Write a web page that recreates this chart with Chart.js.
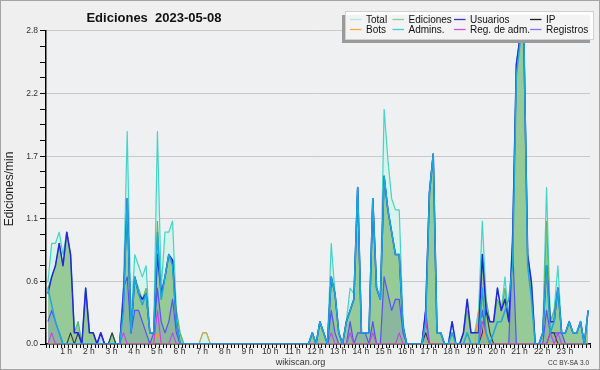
<!DOCTYPE html>
<html><head><meta charset="utf-8">
<script src="https://cdn.jsdelivr.net/npm/chart.js@4"></script>
<style>
html,body{margin:0;padding:0;background:#efefef;}
canvas{display:block;}
</style></head>
<body><canvas id="c" width="600" height="370"></canvas>
<script>
// ---- data (10-minute bins, edits per minute) ----
const hourLabels = ['1 h','2 h','3 h','4 h','5 h','6 h','7 h','8 h','9 h','10 h','11 h','12 h','13 h','14 h','15 h','16 h','17 h','18 h','19 h','20 h','21 h','22 h','23 h'];
const yTickLabels = ['0.0','0.6','1.1','1.7','2.2','2.8'];

const total = [
0.55,0.9,0.9,1.0,0.8,1.0,0.8,0.1,0.2,0,0.5,0.1,
0.1,0,0.1,0,0,0.1,0,0,0.5,1.9,0.2,0.8,
0.7,0.6,0.7,0.1,0.1,1.9,0.5,1.0,1.0,1.1,0.3,0.1,
0,0,0,0,0,0.1,0.1,0,0,0,0,0,
0,0,0,0,0,0,0,0,0,0,0,0,
0,0,0,0,0,0,0,0,0,0,0.1,0,
0.2,0.1,0,0.9,0.45,0.1,0,0.2,0.5,0.45,1.4,0.1,
0.1,0.1,1.3,0.5,0.4,2.1,1.65,1.3,1.2,1.2,0.2,0,
0,0,0,0,0.3,1.4,1.7,0.1,0.1,0,0,0.2,
0,0,0.1,0.4,0.1,0.1,0.3,1.1,0.4,0.2,0.2,0.5,
0.3,0.6,0.2,1.0,2.5,2.75,2.8,0.8,0.55,0,0,0.1,
1.4,0.2,0.3,0.7,0.1,0.1,0.2,0.1,0.1,0.2,0,0.3];

const ediciones = [
0.5,0.6,0.7,0.9,0.7,1.0,0.8,0.1,0.2,0,0.5,0.1,
0.1,0,0,0,0,0.1,0,0,0.4,1.3,0.1,0.6,
0.5,0.4,0.5,0.1,0.1,1.1,0.4,0.6,0.8,0.75,0.3,0.1,
0,0,0,0,0,0,0,0,0,0,0,0,
0,0,0,0,0,0,0,0,0,0,0,0,
0,0,0,0,0,0,0,0,0,0,0.1,0,
0.2,0.1,0,0.6,0.45,0.1,0,0.2,0.3,0.4,1.4,0.1,
0.1,0.1,1.3,0.5,0.4,1.5,1.2,1.0,0.8,0.8,0.15,0,
0,0,0,0,0.2,1.35,1.7,0.1,0.1,0,0,0.1,
0,0,0.1,0.3,0.1,0.1,0.2,0.75,0.4,0.2,0.2,0.4,
0.3,0.5,0.2,0.8,2.5,2.75,2.75,0.8,0.5,0,0,0.1,
1.1,0.2,0.3,0.5,0.1,0.1,0.2,0.1,0.1,0.2,0,0.3];

const usuarios = [
0.45,0.6,0.7,0.9,0.7,1.0,0.8,0.1,0.1,0,0.5,0.1,
0.1,0,0.1,0,0,0,0,0,0.4,1.3,0.1,0.6,
0.45,0.4,0.45,0.1,0.1,0.8,0.45,0.6,0.8,0.75,0.2,0,
0,0,0,0,0,0,0,0,0,0,0,0,
0,0,0,0,0,0,0,0,0,0,0,0,
0,0,0,0,0,0,0,0,0,0,0.1,0,
0.2,0.1,0,0.6,0.45,0.1,0,0.2,0.3,0.4,1.4,0.1,
0.1,0.1,1.3,0.5,0.4,1.5,1.2,1.0,0.8,0.8,0.15,0,
0,0,0,0,0.3,1.35,1.7,0.1,0.1,0,0,0.2,
0,0,0.1,0.4,0.1,0.1,0.1,0.8,0.3,0.2,0.2,0.5,
0.3,0.4,0.2,0.9,2.5,2.75,2.7,0.8,0.55,0,0,0.1,
0.7,0.2,0.2,0.5,0.1,0.1,0.2,0.1,0.1,0.2,0,0.3];

const ip = [
0,0,0,0,0,0,0.1,0,0.1,0,0,0,
0,0,0,0,0,0.1,0,0,0,0,0,0,
0,0,0,0,0,0,0,0,0,0,0,0,
0,0,0,0,0,0,0,0,0,0,0,0,
0,0,0,0,0,0,0,0,0,0,0,0,
0,0,0,0,0,0,0,0,0,0,0,0,
0,0,0,0,0,0,0,0,0,0,0,0,
0,0,0,0,0,0,0,0,0,0,0,0,
0,0,0,0,0.1,0,0,0,0,0,0,0,
0,0,0,0,0,0,0,0.1,0.3,0.1,0,0,
0,0,0,0,0,0,0,0,0,0,0,0,
0,0.1,0.1,0,0,0,0,0,0,0,0,0];

const bots = [
0,0,0,0,0,0,0,0,0,0,0,0,
0,0,0,0,0,0,0,0,0,0,0,0,
0,0,0,0,0,0.1,0,0,0,0,0,0,
0,0,0,0,0,0.1,0.1,0,0,0,0,0,
0,0,0,0,0,0,0,0,0,0,0,0,
0,0,0,0,0,0,0,0,0,0,0,0,
0,0,0,0,0,0,0,0,0,0,0,0,
0,0,0,0,0,0,0,0,0,0,0,0,
0,0,0,0,0,0,0,0,0,0,0,0,
0,0,0,0,0,0,0.3,0.2,0,0,0,0,
0,0,0,0,0,0,0,0,0,0,0,0,
0,0,0,0,0,0,0,0,0,0,0,0];

const admins = [
0.5,0.35,0.2,0.1,0,0,0,0,0,0,0,0,
0,0,0,0,0,0,0,0,0.3,1.3,0.1,0.6,
0.45,0.35,0.45,0.1,0.1,1.0,0.4,0.6,0.8,0.7,0.2,0,
0,0,0,0,0,0,0,0,0,0,0,0,
0,0,0,0,0,0,0,0,0,0,0,0,
0,0,0,0,0,0,0,0,0,0,0.1,0,
0.2,0.1,0,0.6,0.45,0.1,0,0.2,0.3,0.4,1.4,0.1,
0.1,0.1,1.3,0.5,0.4,1.5,1.2,1.0,0.8,0.8,0.15,0,
0,0,0,0,0.2,1.35,1.7,0.1,0.1,0,0,0.1,
0,0,0,0.1,0,0,0,0.5,0.1,0,0.1,0.2,
0.2,0.3,0.4,0.7,2.4,2.7,2.75,0.7,0.4,0,0,0.1,
0.7,0.1,0.2,0.5,0.1,0.1,0.2,0.1,0.1,0.2,0,0.3];

const regAdm = [
0,0.1,0,0,0,0,0,0,0,0,0,0,
0,0,0,0,0,0,0,0,0.1,0,0,0,
0,0,0,0,0,0.3,0,0,0,0.1,0,0,
0,0,0,0,0,0,0,0,0,0,0,0,
0,0,0,0,0,0,0,0,0,0,0,0,
0,0,0,0,0,0,0,0,0,0,0,0,
0,0,0,0.1,0,0,0,0,0.1,0,0,0,
0,0,0.1,0,0,0,0,0,0,0.1,0,0,
0,0,0,0,0.2,0,0,0,0,0,0,0,
0,0,0,0,0,0,0,0.2,0.1,0,0,0,
0,0,0,0,0,0,0,0,0,0,0,0,
0,0.1,0,0.1,0,0,0,0,0,0,0,0];

const registros = [
0.2,0.3,0.2,0.1,0,0,0,0,0,0,0,0,
0,0,0.1,0,0,0,0,0,0.5,0.6,0.1,0.3,
0.3,0.2,0.1,0,0.1,0.5,0.2,0.1,0.2,0.4,0.1,0,
0,0,0,0,0,0,0,0,0,0,0,0,
0,0,0,0,0,0,0,0,0,0,0,0,
0,0,0,0,0,0,0,0,0,0,0,0,
0,0,0,0.3,0.1,0,0,0,0.2,0,0.1,0.1,
0.1,0,0.2,0,0,0.6,0.45,0.3,0.4,0.4,0.1,0,
0,0,0,0,0.3,0,0,0,0,0,0,0,
0,0,0,0,0,0,0,0.3,0.1,0,0,0,
0,0,0,0.9,0,0,0,0,0,0,0,0,
0.3,0.1,0.1,0.1,0.1,0,0,0,0,0,0,0];

// ---- chart ----
const FONT = '"Liberation Sans", Arial, sans-serif';
const pts = arr => arr.map((v, i) => ({x: i + 0.5, y: v}));

const datasets = [
  {label:'Admins.', data:pts(admins), borderColor:'#1aa8de', borderWidth:1.5, fill:false, order:1, legendColor:'#48c8dc'},
  {label:'Usuarios', data:pts(usuarios), borderColor:'#2626d8', borderWidth:1.5, fill:false, order:2, legendColor:'#3434c8'},
  {label:'Reg. de adm.', data:pts(regAdm), borderColor:'#c444ea', borderWidth:1.1, fill:false, order:3, legendColor:'#d050e0'},
  {label:'Bots', data:pts(bots), borderColor:'#f0a030', borderWidth:1.1, fill:false, order:4, legendColor:'#f4a848'},
  {label:'IP', data:pts(ip), borderColor:'#383838', borderWidth:1.1, fill:false, order:5, legendColor:'#202020'},
  {label:'Registros', data:pts(registros), borderColor:'#5a52f0', borderWidth:1.2, fill:'origin', backgroundColor:'rgba(60,60,220,0.13)', order:6, legendColor:'#7c7cf0'},
  {label:'Ediciones', data:pts(ediciones), borderColor:'#5fb45f', borderWidth:1, fill:'origin', backgroundColor:'#96ca96', order:7, legendColor:'#8ccf8c'},
  {label:'Total', data:pts(total), borderColor:'#44d4c6', borderWidth:1.2, fill:'origin', backgroundColor:'#d8f3ec', order:8, legendColor:'#b0e8e0'}
];

const legendRows = [['Total','Ediciones','Usuarios','IP'],['Bots','Admins.','Reg. de adm.','Registros']];

const decor = {
  id:'decor',
  beforeDraw(chart){
    const ctx = chart.ctx, a = chart.chartArea;
    ctx.save();
    ctx.fillStyle = '#efefef';
    ctx.fillRect(0,0,chart.width,chart.height);
    ctx.fillStyle = '#eef0f1';
    ctx.fillRect(a.left,a.top,a.right-a.left,a.bottom-a.top);
    ctx.restore();
  },
  afterDraw(chart){
    const ctx = chart.ctx;
    ctx.save();
    // border
    ctx.strokeStyle = '#a4a4a4'; ctx.lineWidth = 1;
    ctx.strokeRect(0.5,0.5,chart.width-1,chart.height-1);
    // title
    ctx.fillStyle = '#111';
    ctx.font = 'bold 13px ' + FONT;
    ctx.textAlign = 'center'; ctx.textBaseline = 'alphabetic';
    ctx.fillText('Ediciones  2023-05-08', 154, 21.5);
    // y title
    ctx.save();
    ctx.translate(10, 189); ctx.rotate(-Math.PI/2);
    ctx.font = '12px ' + FONT; ctx.fillStyle = '#222';
    ctx.textAlign = 'center'; ctx.textBaseline = 'middle';
    ctx.fillText('Ediciones/min', 0, 0);
    ctx.restore();
    // footer
    ctx.fillStyle = '#333'; ctx.font = '9px ' + FONT; ctx.textAlign = 'center'; ctx.textBaseline = 'alphabetic';
    ctx.fillText('wikiscan.org', 300.5, 365);
    ctx.font = '6.5px ' + FONT; ctx.textAlign = 'right';
    ctx.fillText('CC BY-SA 3.0', 589, 365);
    // legend
    const bx = 345.5, by = 11.5, bw = 248, bh = 28;
    ctx.fillStyle = '#9a9a9a';
    ctx.fillRect(bx-3.5, by+3.5, bw, bh);
    ctx.fillStyle = 'rgba(255,255,255,0.88)';
    ctx.fillRect(bx, by, bw, bh);
    ctx.strokeStyle = '#d0d0d0';
    ctx.strokeRect(bx, by, bw, bh);
    const colX = [350, 392.5, 454, 530];
    const rowY = [19.5, 29.5];
    ctx.font = '10px ' + FONT; ctx.textAlign = 'left'; ctx.textBaseline = 'middle';
    legendRows.forEach((row, r) => row.forEach((lab, c) => {
      const ds = chart.data.datasets.find(d => d.label === lab);
      ctx.strokeStyle = ds.legendColor; ctx.lineWidth = 1.3;
      ctx.beginPath(); ctx.moveTo(colX[c], rowY[r]); ctx.lineTo(colX[c]+11.5, rowY[r]); ctx.stroke();
      ctx.fillStyle = '#111';
      ctx.fillText(lab, colX[c]+16, rowY[r]+0.5);
    }));
    ctx.restore();
  }
};

new Chart(document.getElementById('c'), {
  type:'line',
  data:{datasets},
  plugins:[decor],
  options:{
    responsive:false, animation:false, devicePixelRatio:1,
    layout:{padding:{left:0,right:10,top:31,bottom:0}},
    elements:{point:{radius:0,hoverRadius:0}, line:{tension:0, borderJoinStyle:'round'}},
    plugins:{legend:{display:false}, tooltip:{enabled:false}, filler:{drawTime:'beforeDatasetsDraw'}},
    scales:{
      x:{type:'linear', min:0, max:144, z:1,
        afterFit(s){ s.height = 26; },
        afterBuildTicks(s){ s.ticks = Array.from({length:145}, (_, k) => ({value:k})); },
        ticks:{autoSkip:false, maxRotation:0, minRotation:0, padding:-1, labelOffset:-2.5, color:'#333',
          font:{family:FONT, size:8.5},
          callback:(v) => (v % 6 === 0 && v > 0 && v < 144) ? hourLabels[v/6 - 1] : ''},
        grid:{drawOnChartArea:false, drawTicks:true, tickLength:4, tickColor:'#000', tickWidth:1},
        border:{display:true, color:'#000', width:1.5}
      },
      y:{min:0, max:2.8, z:1,
        afterFit(s){ s.width = 46; },
        afterBuildTicks(s){ s.ticks = Array.from({length:21}, (_, k) => ({value:k*0.14})); },
        ticks:{autoSkip:false, padding:2, color:'#333', font:{family:FONT, size:8.5},
          callback:(v, idx) => idx % 4 === 0 ? yTickLabels[idx/4] : ''},
        grid:{color:(c) => (c.index % 4 === 0 && c.index > 0) ? '#c9c9c9' : 'rgba(0,0,0,0)',
          tickColor:'#000', tickLength:6, lineWidth:1, drawTicks:true},
        border:{display:true, color:'#000', width:1.5}
      }
    }
  }
});
</script>
</body></html>
